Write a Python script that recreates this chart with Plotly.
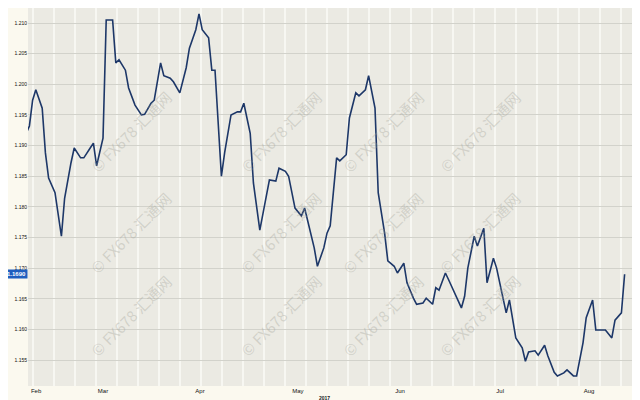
import numpy as np
import plotly.graph_objects as go

# day-of-year positions (2017) and closing values
days = [36, 37, 38, 39, 41, 42, 43, 45, 47, 48, 50, 51, 53, 54, 56, 57, 58, 60, 61, 63,
        64, 65, 67, 68, 70, 72, 73, 75, 76, 78, 79, 81, 82, 84, 86, 87, 89, 90, 91, 93,
        94, 95, 97, 98, 100, 102, 103, 104, 106, 107, 109, 111, 112, 114, 115, 117, 118, 120, 122, 123,
        125, 126, 127, 129, 130, 131, 133, 134, 136, 137, 139, 140, 142, 143, 145, 146, 148, 149, 151, 152,
        154, 155, 157, 158, 160, 161, 163, 164, 165, 167, 168, 170, 172, 173, 174, 176, 177, 179, 180, 182,
        183, 185, 186, 187, 189, 191, 192, 193, 195, 196, 198, 199, 201, 202, 204, 205, 207, 208, 210, 211,
        213, 214, 216, 217, 219, 220, 222, 223]
values = [1.1920, 1.1932, 1.1974, 1.1991, 1.1961, 1.1888, 1.1847, 1.1823, 1.1752, 1.1814,
          1.1872, 1.1896, 1.1880, 1.1880, 1.1896, 1.1904, 1.1867, 1.1912, 1.2105, 1.2105,
          1.2035, 1.2040, 1.2023, 1.1994, 1.1966, 1.1950, 1.1951, 1.1969, 1.1974, 1.2035,
          1.2014, 1.2010, 1.2004, 1.1986, 1.2027, 1.2059, 1.2089, 1.2115, 1.2089, 1.2076,
          1.2023, 1.2023, 1.1850, 1.1888, 1.1950, 1.1955, 1.1955, 1.1969, 1.1920, 1.1839,
          1.1762, 1.1814, 1.1844, 1.1842, 1.1863, 1.1858, 1.1850, 1.1798, 1.1785, 1.1798,
          1.1754, 1.1733, 1.1703, 1.1733, 1.1757, 1.1769, 1.1880, 1.1875, 1.1885, 1.1945,
          1.1986, 1.1981, 1.1991, 1.2014, 1.1961, 1.1823, 1.1757, 1.1712, 1.1703, 1.1692,
          1.1708, 1.1676, 1.1651, 1.1641, 1.1643, 1.1651, 1.1641, 1.1668, 1.1664, 1.1692,
          1.1681, 1.1658, 1.1635, 1.1654, 1.1700, 1.1752, 1.1736, 1.1765, 1.1676, 1.1716,
          1.1700, 1.1651, 1.1627, 1.1648, 1.1586, 1.1570, 1.1548, 1.1563, 1.1565, 1.1558,
          1.1574, 1.1557, 1.1530, 1.1524, 1.1529, 1.1534, 1.1524, 1.1524, 1.1578, 1.1619,
          1.1648, 1.1599, 1.1599, 1.1599, 1.1586, 1.1615, 1.1627, 1.1690]

month_pos = [39.1, 60, 90.3, 120.9, 152.8, 184.1, 211.9]
month_labels = ["Feb", "Mar", "Apr", "May", "Jun", "Jul", "Aug"]
y_ticks = [1.155, 1.160, 1.165, 1.170, 1.175, 1.180, 1.185, 1.190, 1.195, 1.200, 1.205, 1.210]
y_labels = ["1.155", "1.160", "1.165", "1.170", "1.175", "1.180", "1.185",
            "1.190", "1.195", "1.200", "1.205", "1.210"]
last_label = "1.1690"
watermark = "© FX678 汇通网"

fig = go.Figure()
fig.add_trace(go.Scatter(x=days, y=values, mode="lines",
                         line=dict(color="#1d3768", width=1.6), hoverinfo="skip"))

# watermarks
wm_x = [0.089, 0.331, 0.573, 0.806]
wm_y = [0.80, 0.405, 0.06]
for yy in wm_y:
    for xx in wm_x:
        fig.add_annotation(x=xx, y=yy, xref="paper", yref="paper", text=watermark,
                           showarrow=False, textangle=-45,
                           font=dict(size=15, color="rgba(160,160,150,0.35)",
                                     family="Noto Sans CJK SC"))

fig.add_annotation(x=0, y=values[-1], xref="paper", yref="y", xanchor="right",
                   text="<b>" + last_label + "</b>", showarrow=False,
                   bgcolor="#1f5fbf", font=dict(size=6, color="white", family="Liberation Sans"),
                   borderpad=1)
fig.add_annotation(x=0.479, y=-0.022, xref="paper", yref="paper", yanchor="top",
                   text="<b>2017</b>", showarrow=False, borderpad=0,
                   font=dict(size=5, color="#222", family="Liberation Sans"))

fig.update_layout(
    width=640, height=400,
    margin=dict(l=20, r=0, t=0, b=22),
    paper_bgcolor="#fbf9ef",
    plot_bgcolor="#ebeae3",
    showlegend=False,
    xaxis=dict(range=[36.56, 230.31], tickvals=month_pos, ticktext=month_labels,
               showgrid=False, zeroline=False, ticks="", ticklen=0,
               tickfont=dict(size=6, color="#111", family="Liberation Sans"),
               minor=dict(tick0=38.1, dtick=6.56, showgrid=True, gridcolor="#f7f7f2", gridwidth=1.5)),
    yaxis=dict(range=[1.15076, 1.21245], tickvals=y_ticks, ticktext=y_labels,
               showgrid=True, gridcolor="#d2d2cb", gridwidth=1, zeroline=False,
               tickfont=dict(size=5, color="#111", family="Liberation Sans"), ticks=""),
)
fig.write_html("out.html")
